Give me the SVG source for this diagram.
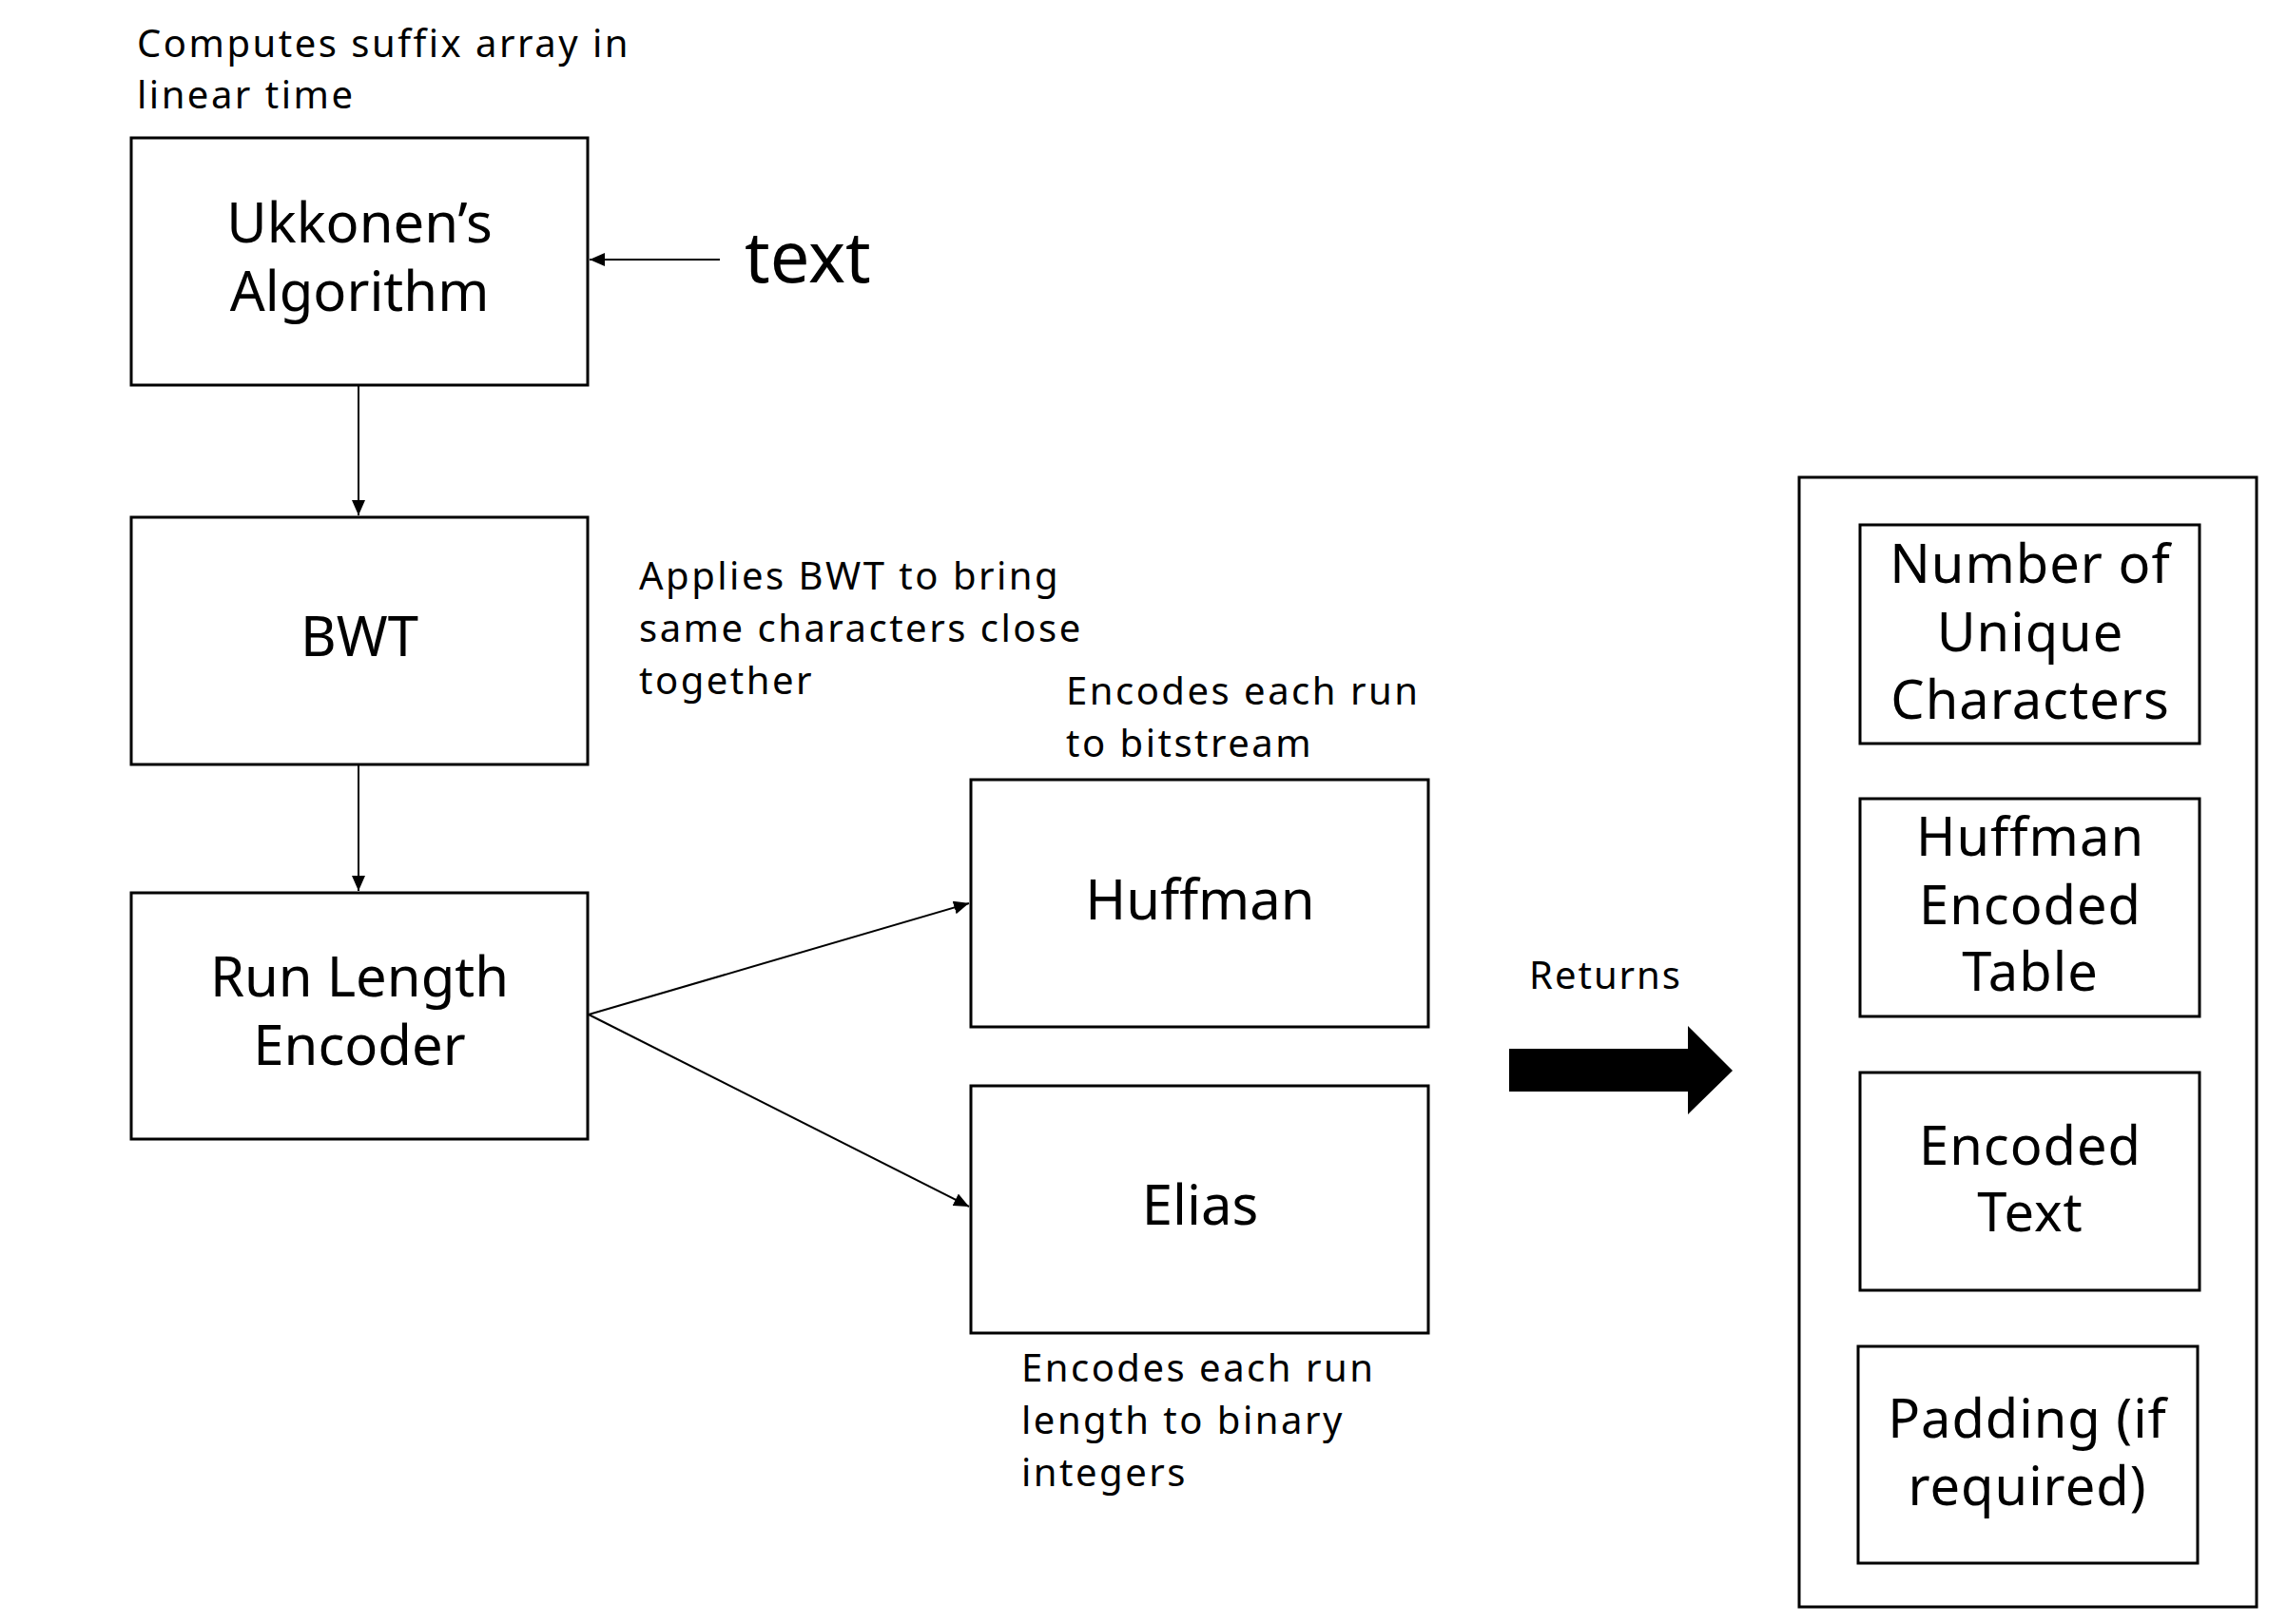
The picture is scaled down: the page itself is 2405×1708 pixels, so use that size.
<svg xmlns="http://www.w3.org/2000/svg" width="2405" height="1708" viewBox="0 0 2405 1708">
<style>
  text { font-family: "Noto Sans", "Liberation Sans", sans-serif; fill: #000; }
  .node { fill: #fff; stroke: #000; stroke-width: 3; }
  .lbl { font-size: 58px; text-anchor: middle; }
  .lbl2 { font-size: 56px; text-anchor: middle; letter-spacing: 1px; }
  .note { font-size: 40px; letter-spacing: 2.5px; }
  .conn { fill: none; stroke: #000; stroke-width: 2; }
</style>
<defs>
  <marker id="ahs" markerWidth="16" markerHeight="14" refX="16" refY="7" orient="auto" markerUnits="userSpaceOnUse" viewBox="0 0 16 14">
    <path d="M0,0 L16,7 L0,14 Z" fill="#000"/>
  </marker>
</defs>
<rect width="2405" height="1708" fill="#fff"/>

<g id="notes">
  <text class="note" x="144" y="60">Computes suffix array in</text>
  <text class="note" x="144" y="114">linear time</text>
  <text class="note" x="672" y="620">Applies BWT to bring</text>
  <text class="note" x="672" y="675">same characters close</text>
  <text class="note" x="672" y="730">together</text>
  <text class="note" x="1121" y="741">Encodes each run</text>
  <text class="note" x="1121" y="796">to bitstream</text>
  <text class="note" x="1074" y="1453">Encodes each run</text>
  <text class="note" x="1074" y="1508">length to binary</text>
  <text class="note" x="1074" y="1563">integers</text>
  <text class="note" x="1608" y="1040" style="letter-spacing:2px">Returns</text>
</g>

<g id="input-text">
  <text x="783" y="297" style="font-size:74px">text</text>
</g>

<g id="ukkonen">
  <rect class="node" x="138" y="145" width="480" height="260"/>
  <text class="lbl" x="378" y="255">Ukkonen’s</text>
  <text class="lbl" x="378" y="327">Algorithm</text>
</g>
<g id="bwt">
  <rect class="node" x="138" y="544" width="480" height="260"/>
  <text class="lbl" x="378" y="690">BWT</text>
</g>
<g id="rle">
  <rect class="node" x="138" y="939" width="480" height="259"/>
  <text class="lbl" x="378" y="1048">Run Length</text>
  <text class="lbl" x="378" y="1120">Encoder</text>
</g>
<g id="huffman">
  <rect class="node" x="1021" y="820" width="481" height="260"/>
  <text class="lbl" x="1262" y="967">Huffman</text>
</g>
<g id="elias">
  <rect class="node" x="1021" y="1142" width="481" height="260"/>
  <text class="lbl" x="1262" y="1288">Elias</text>
</g>

<g id="output">
  <rect class="node" x="1892" y="502" width="481" height="1188"/>
  <g id="out-unique">
    <rect class="node" x="1956" y="552" width="357" height="230"/>
    <text class="lbl2" x="2135" y="613">Number of</text>
    <text class="lbl2" x="2135" y="685">Unique</text>
    <text class="lbl2" x="2135" y="756">Characters</text>
  </g>
  <g id="out-table">
    <rect class="node" x="1956" y="840" width="357" height="229"/>
    <text class="lbl2" x="2135" y="900">Huffman</text>
    <text class="lbl2" x="2135" y="972">Encoded</text>
    <text class="lbl2" x="2135" y="1042">Table</text>
  </g>
  <g id="out-text">
    <rect class="node" x="1956" y="1128" width="357" height="229"/>
    <text class="lbl2" x="2135" y="1225">Encoded</text>
    <text class="lbl2" x="2135" y="1295">Text</text>
  </g>
  <g id="out-padding">
    <rect class="node" x="1954" y="1416" width="357" height="228"/>
    <text class="lbl2" x="2132" y="1512">Padding (if</text>
    <text class="lbl2" x="2132" y="1583">required)</text>
  </g>
</g>

<g id="connectors">
  <line class="conn" x1="757" y1="273" x2="620" y2="273" marker-end="url(#ahs)"/>
  <line class="conn" x1="377" y1="405" x2="377" y2="542" marker-end="url(#ahs)"/>
  <line class="conn" x1="377" y1="804" x2="377" y2="937" marker-end="url(#ahs)"/>
  <line class="conn" x1="619" y1="1067" x2="1019" y2="950" marker-end="url(#ahs)"/>
  <line class="conn" x1="619" y1="1067" x2="1019" y2="1269" marker-end="url(#ahs)"/>
  <polygon id="returns-arrow" points="1587,1103 1775,1103 1775,1079 1822,1126 1775,1172 1775,1148 1587,1148" fill="#000"/>
</g>
</svg>
